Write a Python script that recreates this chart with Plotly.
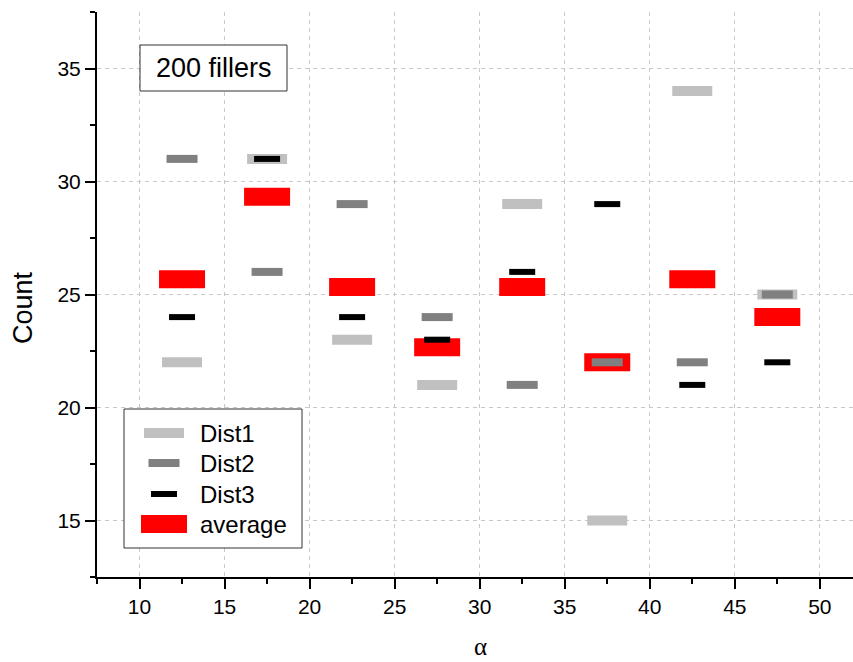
import plotly.graph_objects as go

# ---- data ----
alpha = [12.5, 17.5, 22.5, 27.5, 32.5, 37.5, 42.5, 47.5]
dist1 = [22, 31, 23, 21, 29, 15, 34, 25]
dist2 = [31, 26, 29, 24, 21, 22, 22, 25]
dist3 = [24, 31, 24, 23, 26, 29, 21, 22]
average = [25.67, 29.33, 25.33, 22.67, 25.33, 22.0, 25.67, 24.0]

series_names = ["Dist1", "Dist2", "Dist3", "average"]
x_ticks = [10, 15, 20, 25, 30, 35, 40, 45, 50]
y_ticks = [15, 20, 25, 30, 35]
annotation_text = "200 fillers"
x_title = "α"
y_title = "Count"

# ---- styles (colour, rect width px, rect height px) ----
styles = {
    "Dist1": ("#c0c0c0", 40, 10),
    "Dist2": ("#808080", 31, 8),
    "Dist3": ("#000000", 26, 6),
    "average": ("#ff0000", 46, 18),
}
LINE_EW_FACTOR = 1.4  # plotly's line-ew symbol spans 1.4*size

W, H = 853, 662
ML, MR, MT, MB = 97, 0, 12, 85
PW, PH = W - ML - MR, H - MT - MB
FONT = "Liberation Sans, Arial, sans-serif"


def pxx(px):
    return (px - ML) / PW


def pxy(py):
    return (H - MB - py) / PH


values = {"Dist1": dist1, "Dist2": dist2, "Dist3": dist3, "average": average}

fig = go.Figure()
for name in ["average", "Dist1", "Dist2", "Dist3"]:
    c, w, h = styles[name]
    fig.add_trace(go.Scatter(
        x=alpha, y=values[name], mode="markers", name=name,
        marker=dict(symbol="line-ew", size=w / LINE_EW_FACTOR, color=c,
                    line=dict(width=h, color=c)),
        showlegend=False, hoverinfo="skip",
    ))

shapes = []
annotations = []

# "200 fillers" box
shapes.append(dict(type="rect", xref="paper", yref="paper",
                   x0=pxx(140), x1=pxx(287), y0=pxy(91), y1=pxy(45),
                   fillcolor="white", line=dict(color="#333333", width=1), layer="above"))
annotations.append(dict(text=annotation_text, xref="paper", yref="paper",
                        x=pxx(213.5), y=pxy(68), xanchor="center", yanchor="middle",
                        showarrow=False, font=dict(family=FONT, size=27, color="black")))

# manual legend
shapes.append(dict(type="rect", xref="paper", yref="paper",
                   x0=pxx(124), x1=pxx(302), y0=pxy(548), y1=pxy(409),
                   fillcolor="white", line=dict(color="#333333", width=1), layer="above"))
legend_y = [433, 463, 494, 524]
for name, ly in zip(series_names, legend_y):
    c, w, h = styles[name]
    shapes.append(dict(type="rect", xref="paper", yref="paper",
                       xsizemode="pixel", ysizemode="pixel",
                       xanchor=pxx(164), yanchor=pxy(ly),
                       x0=-w / 2, x1=w / 2, y0=-h / 2, y1=h / 2,
                       fillcolor=c, line=dict(width=0), layer="above"))
    annotations.append(dict(text=name, xref="paper", yref="paper",
                            x=pxx(198), y=pxy(ly), xanchor="left", yanchor="middle",
                            showarrow=False, font=dict(family=FONT, size=24, color="black")))

# axis titles
annotations.append(dict(text=y_title, xref="paper", yref="paper", x=pxx(23), y=pxy(308),
                        xanchor="center", yanchor="middle", textangle=-90, showarrow=False,
                        font=dict(family=FONT, size=27, color="black")))
annotations.append(dict(text=x_title, xref="paper", yref="paper", x=pxx(480), y=pxy(646),
                        xanchor="center", yanchor="middle", showarrow=False,
                        font=dict(family="Liberation Serif, serif", size=25, color="black")))

grid = dict(showgrid=True, gridcolor="#c8c8c8", gridwidth=1, griddash="4px,4px")
common = dict(showline=True, linewidth=2, linecolor="black", ticks="outside", ticklen=10,
              tickwidth=2, tickcolor="black", zeroline=False,
              tickfont=dict(family=FONT, size=21, color="black"))

fig.update_layout(
    width=W, height=H, margin=dict(l=ML, r=MR, t=MT, b=MB),
    plot_bgcolor="white", paper_bgcolor="white", showlegend=False,
    shapes=shapes, annotations=annotations,
    xaxis=dict(range=[7.5, 51.95], tickmode="array", tickvals=x_ticks,
               minor=dict(ticks="outside", ticklen=5, tickwidth=1.5, tickcolor="black",
                          dtick=2.5, tick0=0, showgrid=False),
               **grid, **common),
    xaxis2=dict(range=[7.5, 51.95], overlaying="x", side="top", anchor="y",
                showline=True, linewidth=2, linecolor="black", ticks="inside", ticklen=10,
                tickwidth=2, tickcolor="black", showticklabels=False, showgrid=False,
                zeroline=False, tickmode="array", tickvals=x_ticks,
                minor=dict(ticks="inside", ticklen=5, tickwidth=1.5, tickcolor="black",
                           dtick=2.5, tick0=0, showgrid=False)),
    yaxis=dict(range=[12.5, 37.5], tickmode="array", tickvals=y_ticks,
               minor=dict(ticks="outside", ticklen=5, tickwidth=1.5, tickcolor="black",
                          dtick=2.5, tick0=0, showgrid=False),
               **grid, **common),
)

fig.write_html("out.html", config={"displayModeBar": False},
               post_script="document.body.style.margin='0';document.body.style.overflow='hidden';")
